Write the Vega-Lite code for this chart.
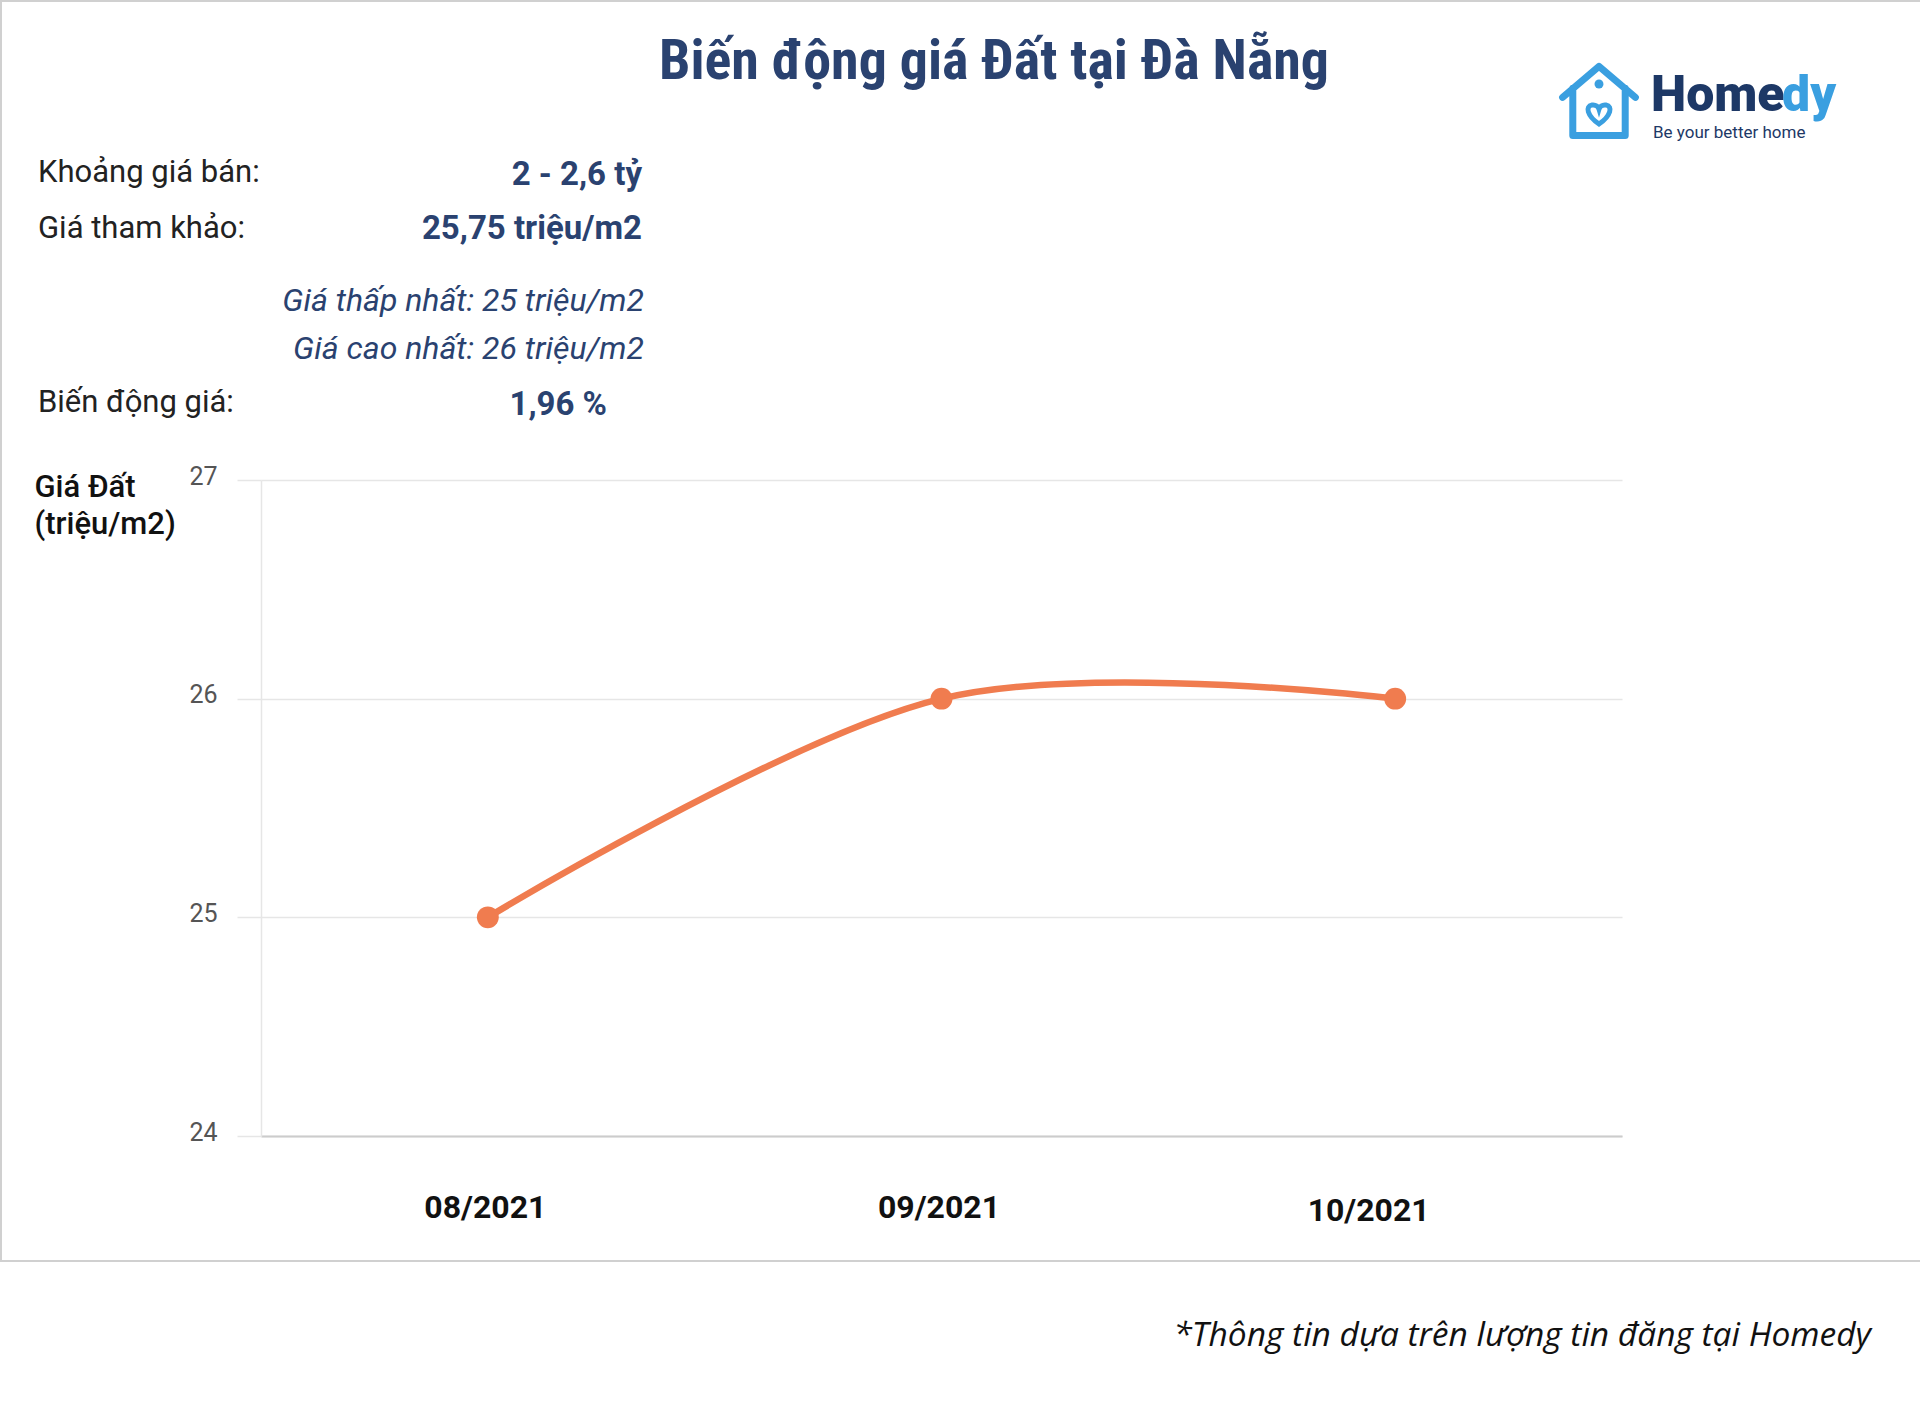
{
  "$schema": "https://vega.github.io/schema/vega-lite/v6.json",
  "width": 1361,
  "height": 656,
  "autosize": {"type": "none"},
  "padding": {"left": 261, "top": 480, "right": 298, "bottom": 274},
  "background": "#ffffff",
  "config": {"view": {"stroke": null}, "font": "Roboto"},
  "layer": [
    {
      "data": {"values": [
        {"month": "08/2021", "price": 25},
        {"month": "09/2021", "price": 26},
        {"month": "10/2021", "price": 26}
      ]},
      "layer": [
        {
          "mark": {"type": "line", "interpolate": "cardinal", "color": "#f07c4f", "strokeWidth": 6.5, "strokeCap": "round"},
          "encoding": {
            "x": {"field": "month", "type": "ordinal", "sort": null,
              "scale": {"type": "point", "padding": 0.5},
              "axis": {"title": null, "ticks": false, "labelAngle": 0, "labelFont": "Roboto", "labelFontSize": 32, "labelFontWeight": "bold", "labelColor": "#111111",
                "labelPadding": {"condition": {"test": "datum.value === '10/2021'", "value": 59}, "value": 56},
                "labelOffset": {"condition": {"test": "datum.value === '10/2021'", "value": -27}, "value": -3},
                "domain": true, "domainColor": "#cccccc", "domainWidth": 2, "grid": false}},
            "y": {"field": "price", "type": "quantitative",
              "scale": {"domain": [24, 27], "nice": false, "zero": false},
              "axis": {"values": [24, 25, 26, 27], "format": "d", "grid": true, "gridColor": "#e6e6e6", "gridWidth": 1.5, "tickColor": "#e6e6e6", "tickSize": 24, "tickWidth": 1.5, "domainColor": "#e6e6e6", "domainWidth": 1.5, "labelFont": "Roboto", "labelFontSize": 25, "labelColor": "#555555", "labelPadding": 20, "labelOffset": -4,
                "title": ["Giá Đất", "(triệu/m2)"], "titleAngle": 0, "titleAlign": "left", "titleBaseline": "top", "titleX": -227, "titleY": -8, "titleFont": "Roboto", "titleFontSize": 31, "titleFontWeight": 500, "titleColor": "#111111", "titleLineHeight": 37}}
          }
        },
        {
          "mark": {"type": "point", "filled": true, "opacity": 1, "color": "#f07c4f", "size": 480},
          "encoding": {
            "x": {"field": "month", "type": "ordinal", "sort": null},
            "y": {"field": "price", "type": "quantitative"}
          }
        }
      ]
    },
    {
      "data": {"values": [{}]},
      "mark": {"type": "text", "text": "Biến động giá Đất tại Đà Nẵng", "font": "Roboto Condensed, DejaVu Sans Condensed, Liberation Sans Narrow, Roboto, sans-serif", "fontWeight": "bold", "fontSize": 56, "color": "#2a4270", "align": "center", "baseline": "alphabetic", "x": 733, "y": -401},
      "encoding": {}
    },
    {
      "data": {"values": [{}]},
      "mark": {"type": "text", "text": "Khoảng giá bán:", "fontSize": 31, "color": "#222222", "align": "left", "baseline": "middle", "x": -223, "y": -307},
      "encoding": {}
    },
    {
      "data": {"values": [{}]},
      "mark": {"type": "text", "text": "Giá tham khảo:", "fontSize": 31, "color": "#222222", "align": "left", "baseline": "middle", "x": -223, "y": -251},
      "encoding": {}
    },
    {
      "data": {"values": [{}]},
      "mark": {"type": "text", "text": "Biến động giá:", "fontSize": 31, "color": "#222222", "align": "left", "baseline": "middle", "x": -223, "y": -77},
      "encoding": {}
    },
    {
      "data": {"values": [{}]},
      "mark": {"type": "text", "text": "2 - 2,6 tỷ", "fontSize": 33, "fontWeight": "bold", "color": "#2a4270", "align": "right", "baseline": "middle", "x": 381, "y": -305},
      "encoding": {}
    },
    {
      "data": {"values": [{}]},
      "mark": {"type": "text", "text": "25,75 triệu/m2", "fontSize": 33, "fontWeight": "bold", "color": "#2a4270", "align": "right", "baseline": "middle", "x": 381, "y": -251},
      "encoding": {}
    },
    {
      "data": {"values": [{}]},
      "mark": {"type": "text", "text": "Giá thấp nhất: 25 triệu/m2", "fontSize": 32, "fontStyle": "italic", "color": "#2a4270", "align": "right", "baseline": "middle", "x": 383, "y": -179},
      "encoding": {}
    },
    {
      "data": {"values": [{}]},
      "mark": {"type": "text", "text": "Giá cao nhất: 26 triệu/m2", "fontSize": 32, "fontStyle": "italic", "color": "#2a4270", "align": "right", "baseline": "middle", "x": 383, "y": -131},
      "encoding": {}
    },
    {
      "data": {"values": [{}]},
      "mark": {"type": "text", "text": "1,96 %", "fontSize": 33, "fontWeight": "bold", "color": "#2a4270", "align": "right", "baseline": "middle", "x": 346, "y": -75},
      "encoding": {}
    },
    {
      "data": {"values": [{}]},
      "mark": {"type": "text", "text": "Home", "font": "Roboto", "fontSize": 50, "fontWeight": 900, "color": "#1d3866", "align": "left", "baseline": "middle", "x": 1390, "y": -384},
      "encoding": {}
    },
    {
      "data": {"values": [{}]},
      "mark": {"type": "text", "text": "dy", "font": "Roboto", "fontSize": 50, "fontWeight": 900, "color": "#3a9fe0", "align": "left", "baseline": "middle", "x": 1521, "y": -384},
      "encoding": {}
    },
    {
      "data": {"values": [{}]},
      "mark": {"type": "text", "text": "Be your better home", "font": "Roboto", "fontSize": 17, "color": "#1d3866", "align": "left", "baseline": "middle", "x": 1392, "y": -347},
      "encoding": {}
    },
    {
      "data": {"values": [{}]},
      "mark": {"type": "point", "shape": "M-1,-0.1 L0,-0.95 L1,-0.1 M-0.72,-0.35 L-0.72,0.95 L0.72,0.95 L0.72,-0.35", "filled": false, "stroke": "#3a9fe0", "strokeWidth": 7, "strokeJoin": "round", "strokeCap": "round", "size": 5300, "opacity": 1, "x": 1338, "y": -379},
      "encoding": {}
    },
    {
      "data": {"values": [{}]},
      "mark": {"type": "point", "shape": "M0,0.8 C-0.6,0.4 -0.7,-0.1 -0.35,-0.15 C-0.15,-0.18 -0.03,-0.05 0,0.05 C0.03,-0.05 0.15,-0.18 0.35,-0.15 C0.7,-0.1 0.6,0.4 0,0.8 Z", "filled": false, "stroke": "#3a9fe0", "strokeWidth": 5, "size": 1600, "opacity": 1, "x": 1338, "y": -372},
      "encoding": {}
    },
    {
      "data": {"values": [{}]},
      "mark": {"type": "point", "shape": "circle", "filled": true, "color": "#3a9fe0", "size": 80, "opacity": 1, "x": 1338, "y": -396},
      "encoding": {}
    },
    {
      "data": {"values": [{}]},
      "mark": {"type": "rule", "color": "#d0d0d0", "strokeWidth": 2},
      "encoding": {"x": {"value": -261}, "x2": {"value": 1659}, "y": {"value": 781}}
    },
    {
      "data": {"values": [{}]},
      "mark": {"type": "rule", "color": "#d0d0d0", "strokeWidth": 2},
      "encoding": {"x": {"value": -260}, "y": {"value": -480}, "y2": {"value": 781}}
    },
    {
      "data": {"values": [{}]},
      "mark": {"type": "rule", "color": "#d0d0d0", "strokeWidth": 2},
      "encoding": {"x": {"value": -261}, "x2": {"value": 1659}, "y": {"value": -479}}
    },
    {
      "data": {"values": [{}]},
      "mark": {"type": "text", "text": "*Thông tin dựa trên lượng tin đăng tại Homedy", "font": "Open Sans", "fontStyle": "italic", "fontSize": 33.5, "color": "#111111", "align": "right", "baseline": "middle", "x": 1610, "y": 856},
      "encoding": {}
    }
  ]
}
